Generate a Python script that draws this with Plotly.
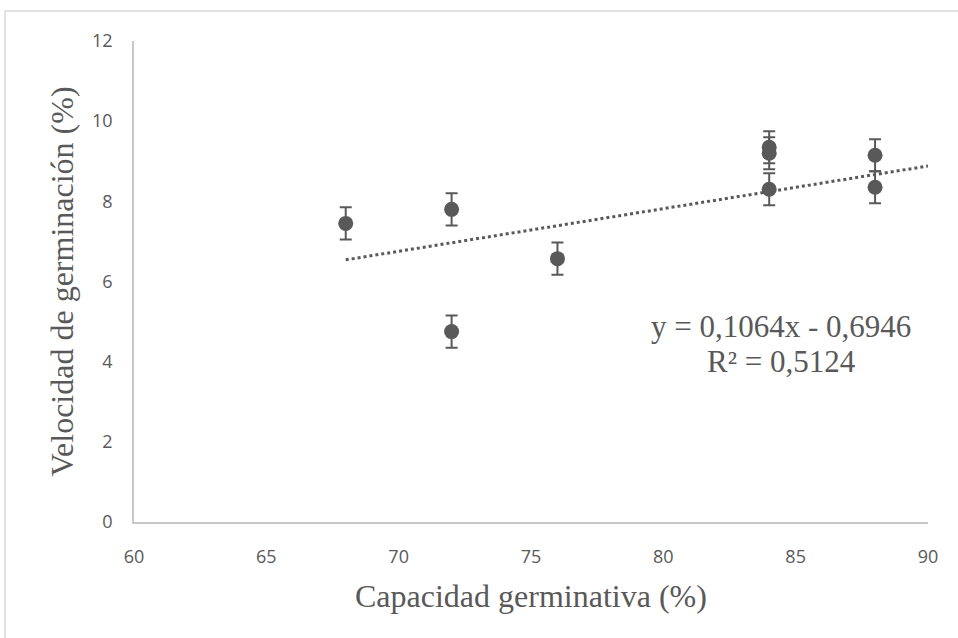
import plotly.graph_objects as go

# Data
capacidad = [68, 72, 72, 76, 84, 84, 84, 88, 88]
velocidad = [7.45, 7.8, 4.75, 6.57, 9.35, 9.2, 8.3, 9.15, 8.35]
error = [0.4, 0.4, 0.4, 0.4, 0.4, 0.4, 0.4, 0.4, 0.4]

# Trendline as printed on the chart
slope = 0.1064
intercept = -0.6946
trend_x = [68, 90]
trend_y = [slope * v + intercept for v in trend_x]

x_ticks = [60, 65, 70, 75, 80, 85, 90]
y_ticks = [0, 2, 4, 6, 8, 10, 12]

GRAY = "#595959"
AXIS = "#c8c8c8"

W, H = 958, 638
L, R, T, B = 134, 30, 41, 116
pw, ph = W - L - R, H - T - B

def px(xp):
    return (xp - L) / pw

def py(yp):
    return (H - B - yp) / ph

fig = go.Figure()
fig.add_trace(go.Scatter(
    x=trend_x, y=trend_y, mode="lines",
    line=dict(color=GRAY, width=3, dash="dot"),
    hoverinfo="skip", showlegend=False,
))
fig.add_trace(go.Scatter(
    x=capacidad, y=velocidad, mode="markers",
    marker=dict(color=GRAY, size=15),
    error_y=dict(type="data", array=error, visible=True, color=GRAY,
                 thickness=2, width=6),
    showlegend=False,
))

tickfont = dict(family="Open Sans", size=18, color=GRAY)
fig.update_layout(
    width=W, height=H,
    margin=dict(l=L, r=R, t=T, b=B),
    paper_bgcolor="white", plot_bgcolor="white",
    xaxis=dict(range=[60, 90], tickvals=x_ticks, showgrid=False, zeroline=False,
               showline=True, linecolor=AXIS, linewidth=1.5, ticks="",
               tickfont=tickfont, ticklabelstandoff=18),
    yaxis=dict(range=[0, 12], tickvals=y_ticks, showgrid=False, zeroline=False,
               showline=True, linecolor=AXIS, linewidth=1.5, ticks="",
               tickfont=tickfont, ticklabelstandoff=16),
    shapes=[dict(type="rect", xref="paper", yref="paper",
                 x0=px(5), x1=px(1200), y0=py(11), y1=py(1000),
                 line=dict(color="#d9d9d9", width=1.5), layer="below")],
    annotations=[
        dict(text="Capacidad germinativa (%)", xref="paper", yref="paper",
             x=0.5, y=py(596), xanchor="center", yanchor="middle", showarrow=False,
             font=dict(family="Liberation Serif", size=32, color=GRAY)),
        dict(text="Velocidad de germinación (%)", xref="paper", yref="paper",
             x=px(61), y=0.5, xanchor="center", yanchor="middle", showarrow=False,
             textangle=-90,
             font=dict(family="Liberation Serif", size=32, color=GRAY)),
        dict(text="y = 0,1064x - 0,6946", xref="paper", yref="paper",
             x=px(781), y=py(327), xanchor="center", yanchor="middle", showarrow=False,
             font=dict(family="Liberation Serif", size=31, color=GRAY)),
        dict(text="R² = 0,5124", xref="paper", yref="paper",
             x=px(781), y=py(361), xanchor="center", yanchor="middle", showarrow=False,
             font=dict(family="Liberation Serif", size=31, color=GRAY)),
    ],
)

fig.write_html("out.html")
